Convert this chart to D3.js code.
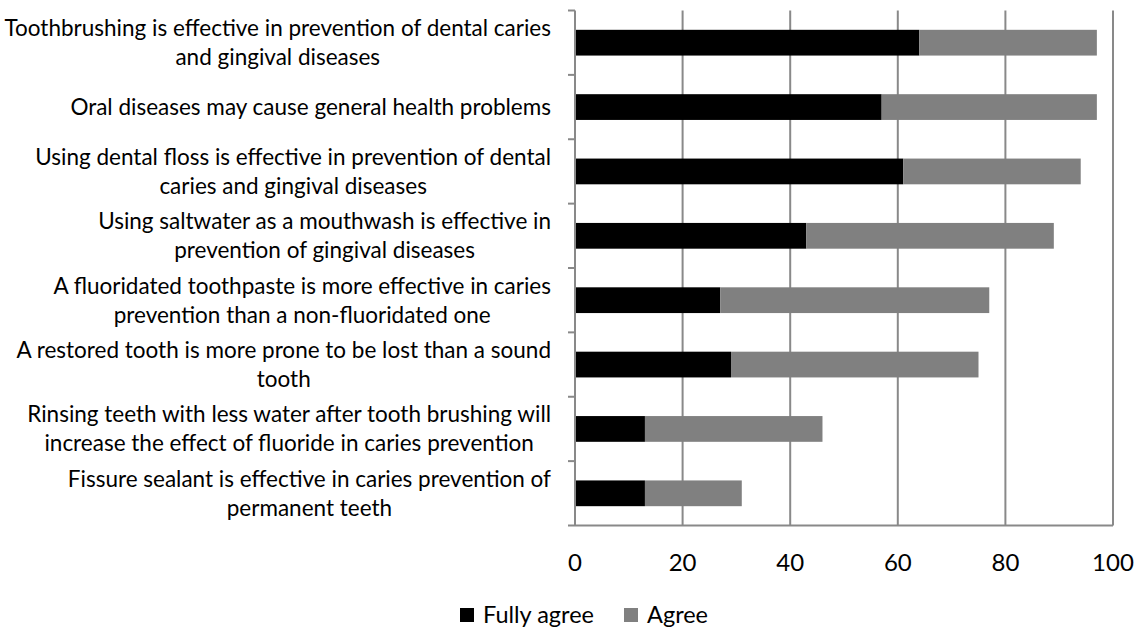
<!DOCTYPE html>
<html>
<head>
<meta charset="utf-8">
<script src="https://cdn.jsdelivr.net/npm/d3@7"></script>
<style>
  body { margin: 0; background: #fff; }
  text { font-family: Lato, "Open Sans", sans-serif; fill: #000; }
</style>
</head>
<body>
<div id="chart"></div>
<script>
// statements, top to bottom as in the chart (label lines as wrapped in the original)
const statements = [
  ["Toothbrushing is effective in prevention of dental caries", "and gingival diseases"],
  ["Oral diseases may cause general health problems"],
  ["Using dental floss is effective in prevention of dental", "caries and gingival diseases"],
  ["Using saltwater as a mouthwash is effective in", "prevention of gingival diseases"],
  ["A fluoridated toothpaste is more effective in caries", "prevention than a non-fluoridated one"],
  ["A restored tooth is more prone to be lost than a sound", "tooth"],
  ["Rinsing teeth with less water after tooth brushing will", "increase the effect of fluoride in caries prevention"],
  ["Fissure sealant is effective in caries prevention of", "permanent teeth"]
];
const fullyAgree = [64, 57, 61, 43, 27, 29, 13, 13];
const agree = [33, 40, 33, 46, 50, 46, 33, 18];
const seriesNames = ["Fully agree", "Agree"];
const seriesColors = ["#000000", "#808080"];
const xTicks = [0, 20, 40, 60, 80, 100];

const W = 1138, H = 628;
const plot = { left: 575, right: 1113, top: 10.5, bottom: 525.5 };
const fontSize = 22.5;
const gridColor = "#898989";

const svg = d3.select("#chart").append("svg")
  .attr("width", W)
  .attr("height", H);

const ids = statements.map((d, i) => i);
const x = d3.scaleLinear().domain([0, 100]).range([plot.left, plot.right]);
const y = d3.scaleBand().domain(ids).range([plot.top, plot.bottom])
  .paddingInner(0.6).paddingOuter(0.3);

// gridlines
svg.append("g")
  .selectAll("line")
  .data(xTicks.slice(1))
  .join("line")
  .attr("x1", (d) => x(d)).attr("x2", (d) => x(d))
  .attr("y1", plot.top).attr("y2", plot.bottom)
  .attr("stroke", gridColor)
  .attr("stroke-width", 2);

// stacked bars
const rows = ids.map((i) => ({ id: i, values: [fullyAgree[i], agree[i]] }));
const stack = d3.stack().keys([0, 1]).value((d, k) => d.values[k]);
const layers = stack(rows);

svg.append("g")
  .selectAll("g")
  .data(layers)
  .join("g")
  .attr("fill", (d, k) => seriesColors[k])
  .selectAll("rect")
  .data((d) => d)
  .join("rect")
  .attr("x", (d) => x(d[0]))
  .attr("width", (d) => x(d[1]) - x(d[0]))
  .attr("y", (d) => y(d.data.id))
  .attr("height", y.bandwidth());

// left axis with ticks between categories
const step = y.step();
const boundaries = d3.range(statements.length + 1).map((i) => plot.top + i * step);
const yAxis = svg.append("g");
yAxis.append("line")
  .attr("x1", plot.left).attr("x2", plot.left)
  .attr("y1", plot.top).attr("y2", plot.bottom)
  .attr("stroke", gridColor).attr("stroke-width", 2);
yAxis.selectAll(".tick")
  .data(boundaries)
  .join("line")
  .attr("class", "tick")
  .attr("x1", plot.left - 7).attr("x2", plot.left)
  .attr("y1", (d) => d).attr("y2", (d) => d)
  .attr("stroke", gridColor).attr("stroke-width", 2);

// bottom axis line
svg.append("line")
  .attr("x1", plot.left).attr("x2", plot.right)
  .attr("y1", plot.bottom).attr("y2", plot.bottom)
  .attr("stroke", gridColor).attr("stroke-width", 2);

// x tick labels
svg.append("g")
  .selectAll("text")
  .data(xTicks)
  .join("text")
  .attr("x", (d) => x(d))
  .attr("y", 563)
  .attr("dy", "0.35em")
  .attr("text-anchor", "middle")
  .style("font-size", "24px")
  .text((d) => d);

// category labels: lines centred on each other, block right-aligned
const lineH = 29;
const labelRight = 551;
const labels = svg.append("g")
  .selectAll("g")
  .data(ids)
  .join("g");

labels.each(function (i) {
  const g = d3.select(this);
  const lines = statements[i];
  const cy = y(i) + y.bandwidth() / 2;
  const texts = g.selectAll("text")
    .data(lines)
    .join("text")
    .attr("y", (d, k) => cy + (k - (lines.length - 1) / 2) * lineH)
    .attr("dy", "0.35em")
    .attr("text-anchor", "middle")
    .style("font-size", fontSize + "px")
    .text((d) => d);
  const maxW = d3.max(texts.nodes(), (n) => n.getComputedTextLength());
  texts.attr("x", labelRight - maxW / 2);
});

// legend
const legend = svg.append("g").attr("transform", "translate(0,615)");
const legendX = [460, 624];
seriesNames.forEach((name, k) => {
  legend.append("rect")
    .attr("x", legendX[k]).attr("y", -7)
    .attr("width", 14).attr("height", 14)
    .attr("fill", seriesColors[k]);
  legend.append("text")
    .attr("x", legendX[k] + 23)
    .attr("dy", "0.35em")
    .style("font-size", "23.5px")
    .text(name);
});
</script>
</body>
</html>
